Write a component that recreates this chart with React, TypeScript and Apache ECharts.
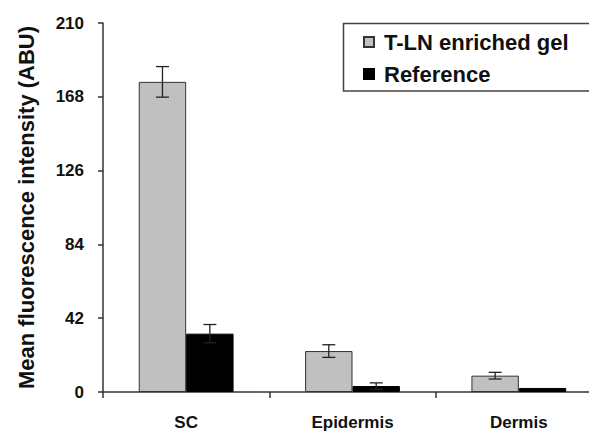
import React, { useEffect, useRef } from "react";
import * as echarts from "echarts";

const categories = ["SC", "Epidermis", "Dermis"];
const seriesNames = ["T-LN enriched gel", "Reference"];
const gelValues = [176.5, 23.3, 9.3];
const gelErrors = [8.7, 3.6, 1.9];
const refValues = [33.2, 3.4, 2.3];
const refErrors = [5.2, 1.8, 0];
const yTicks = { min: 0, max: 210, interval: 42 };
const yTitle = "Mean fluorescence intensity (ABU)";

const FONT = 'Arial, "Liberation Sans", Helvetica, sans-serif';
const GAP = 0.43;

function errorSeries(values: number[], errors: number[], side: number) {
  return {
    type: "custom",
    z: 5,
    silent: true,
    data: values.map((v, i) => [i, v, errors[i]]),
    encode: { x: 0, y: 1 },
    renderItem: (params: any, api: any) => {
      const idx = api.value(0);
      const v = api.value(1);
      const e = api.value(2);
      if (!e) return { type: "group", children: [] };
      const band = api.size([1, 0])[0];
      const off = (side * band * (1 - GAP)) / 4;
      const top = api.coord([idx, v + e]);
      const bot = api.coord([idx, v - e]);
      const x = top[0] + off;
      const cap = 6.5;
      const style = { stroke: "#222", lineWidth: 1.3 };
      return {
        type: "group",
        children: [
          { type: "line", shape: { x1: x, y1: top[1], x2: x, y2: bot[1] }, style },
          { type: "line", shape: { x1: x - cap, y1: top[1], x2: x + cap, y2: top[1] }, style },
          { type: "line", shape: { x1: x - cap, y1: bot[1], x2: x + cap, y2: bot[1] }, style },
        ],
      };
    },
  };
}

export default function App() {
  const ref = useRef<HTMLDivElement>(null);
  useEffect(() => {
    if (!ref.current) return;
    const chart = echarts.init(ref.current, undefined, { renderer: "svg" });
    chart.setOption({
      animation: false,
      backgroundColor: "#ffffff",
      textStyle: { fontFamily: FONT },
      grid: { left: 103, top: 23, width: 499, height: 369, outerBoundsMode: "none" },
      graphic: [
        {
          type: "rect",
          z: 10,
          silent: true,
          shape: { x: 343.5, y: 23.5, width: 260, height: 67.5 },
          style: { fill: "none", stroke: "#444", lineWidth: 1.5 },
        },
      ],
      legend: {
        data: seriesNames,
        orient: "vertical",
        left: 343,
        top: 23,
        icon: "rect",
        itemWidth: 10,
        itemHeight: 10,
        itemGap: 10,
        padding: [8, 10, 7, 20],
        borderWidth: 0,
        textStyle: {
          fontFamily: FONT,
          fontWeight: "bold",
          fontSize: 22,
          lineHeight: 22,
          color: "#111",
          padding: [0, 0, 0, 5],
        },
      },
      xAxis: {
        type: "category",
        data: categories,
        axisLine: { lineStyle: { color: "#333", width: 1.5 } },
        axisTick: { show: true, length: 6, alignWithLabel: false, lineStyle: { color: "#333", width: 1.5 } },
        axisLabel: { fontFamily: FONT, fontWeight: "bold", fontSize: 17, color: "#111", margin: 22 },
      },
      yAxis: {
        type: "value",
        min: yTicks.min,
        max: yTicks.max,
        interval: yTicks.interval,
        name: yTitle,
        nameLocation: "middle",
        nameGap: 66,
        nameTextStyle: { fontFamily: FONT, fontWeight: "bold", fontSize: 22, color: "#111" },
        axisLine: { show: true, lineStyle: { color: "#333", width: 1.5 } },
        axisTick: { show: true, length: 5, lineStyle: { color: "#333", width: 1.5 } },
        axisLabel: { fontFamily: FONT, fontWeight: "bold", fontSize: 17, color: "#111", margin: 19 },
        splitLine: { show: false },
      },
      series: [
        {
          name: seriesNames[0],
          type: "bar",
          data: gelValues,
          barGap: "0%",
          barCategoryGap: "43%",
          itemStyle: { color: "#c0c0c0", borderColor: "#333", borderWidth: 1 },
        },
        {
          name: seriesNames[1],
          type: "bar",
          data: refValues,
          barGap: "0%",
          barCategoryGap: "43%",
          itemStyle: { color: "#000000", borderColor: "#000", borderWidth: 1 },
        },
        errorSeries(gelValues, gelErrors, -1),
        errorSeries(refValues, refErrors, 1),
      ],
    });
    return () => chart.dispose();
  }, []);
  return (
    <div
      ref={ref}
      style={{ position: "absolute", left: 0, top: 0, width: 589, height: 435, background: "#fff" }}
    />
  );
}
